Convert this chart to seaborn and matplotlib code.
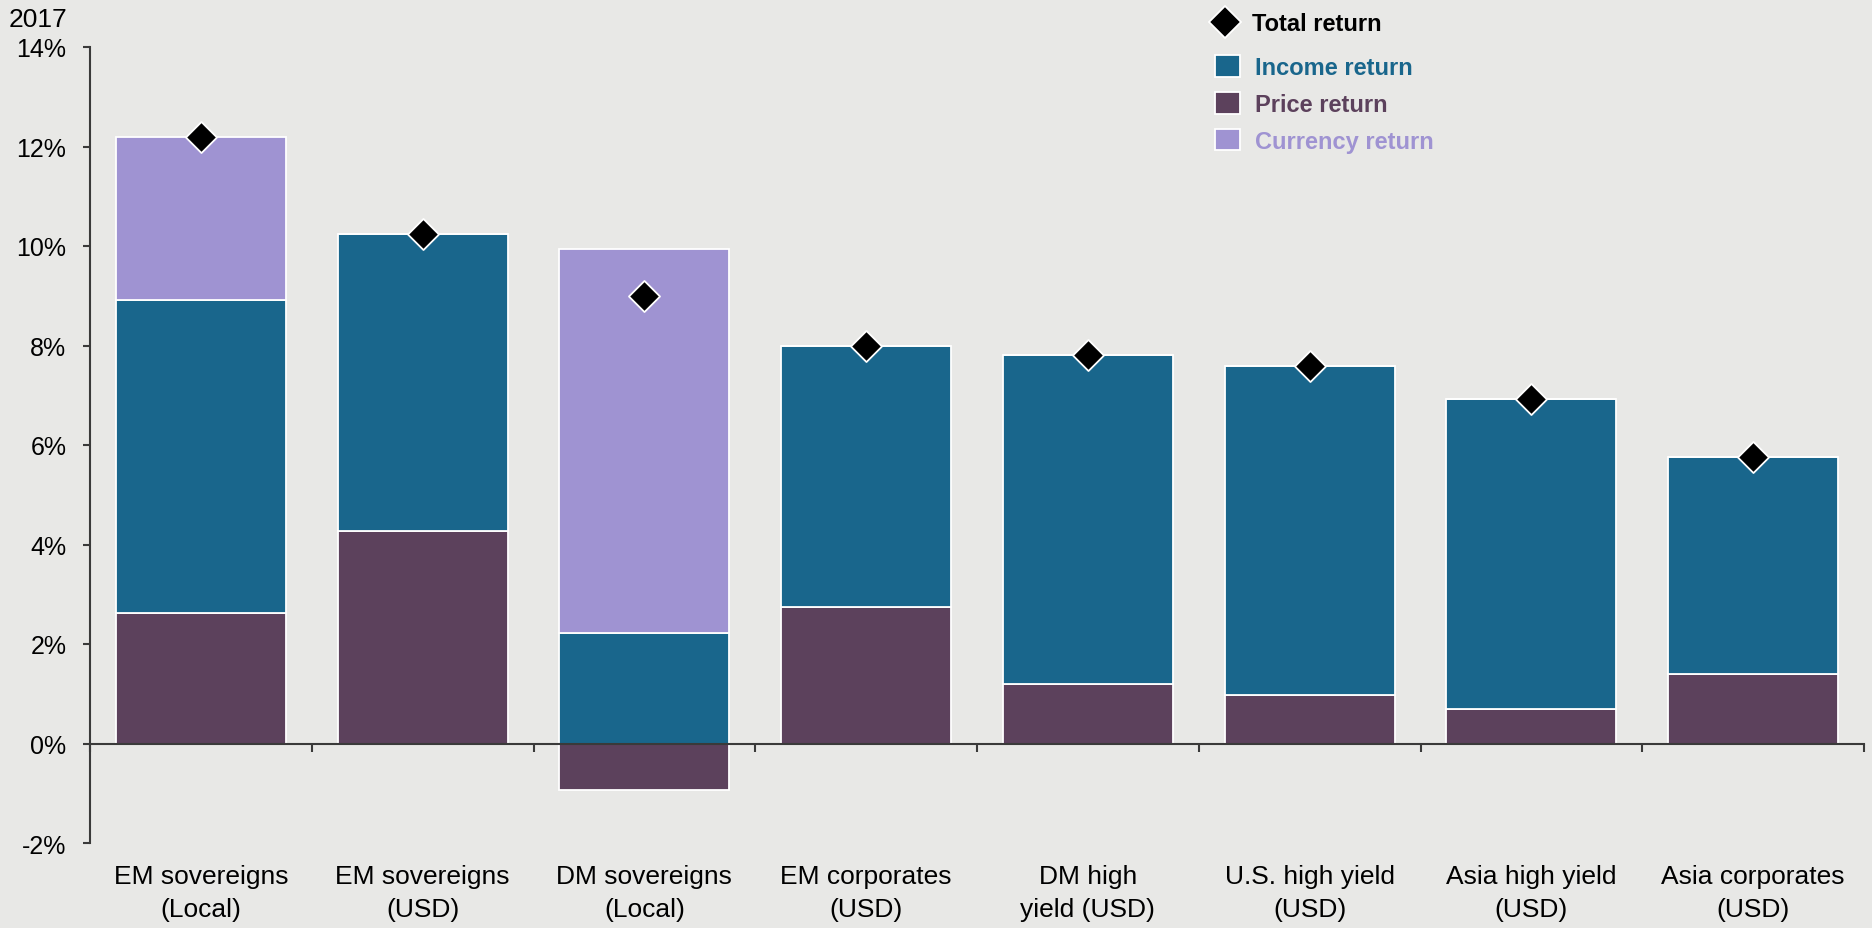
import numpy as np
import pandas as pd
import matplotlib
matplotlib.use("Agg")
import matplotlib.pyplot as plt
from matplotlib.lines import Line2D
from matplotlib.patches import Patch
import seaborn as sns

# Fixed income returns in 2017, split into components (%)
categories = ["EM sovereigns\n(Local)", "EM sovereigns\n(USD)", "DM sovereigns\n(Local)",
              "EM corporates\n(USD)", "DM high\nyield (USD)", "U.S. high yield\n(USD)",
              "Asia high yield\n(USD)", "Asia corporates\n(USD)"]
price_return = [2.62, 4.27, -0.94, 2.74, 1.20, 0.98, 0.70, 1.39]
income_return = [6.29, 5.98, 2.23, 5.26, 6.60, 6.61, 6.22, 4.37]
currency_return = [3.29, 0.00, 7.71, 0.00, 0.00, 0.00, 0.00, 0.00]
total_return = [12.20, 10.25, 9.00, 8.00, 7.80, 7.59, 6.92, 5.76]
y_ticks = [-2, 0, 2, 4, 6, 8, 10, 12, 14]
y_tick_labels = ["-2%", "0%", "2%", "4%", "6%", "8%", "10%", "12%", "14%"]

c_income = "#19668c"
c_price = "#5c415c"
c_currency = "#9f93d2"
bg = "#e8e8e6"
axis_col = "#3a3a3a"

sns.set_theme(style="white")
plt.rcParams["font.family"] = ["Liberation Sans", "DejaVu Sans"]

df = pd.DataFrame({
    "category": categories,
    "price": price_return,
    "income": income_return,
    "currency": currency_return,
    "total": total_return,
})
df["income_base"] = df["price"].clip(lower=0)
df["currency_base"] = df["income_base"] + df["income"]

fig = plt.figure(figsize=(18.72, 9.29), dpi=100, facecolor=bg)
ax = fig.add_axes([90 / 1872, 1 - 844 / 929, 1774 / 1872, 796 / 929])
ax.set_facecolor(bg)

bar_kw = dict(width=0.766, edgecolor="white", linewidth=1.3, saturation=1, ax=ax, zorder=2)
sns.barplot(data=df, x="category", y="price", color=c_price, **bar_kw)
sns.barplot(data=df, x="category", y="income", bottom=df["income_base"], color=c_income, **bar_kw)
sns.barplot(data=df, x="category", y="currency", bottom=df["currency_base"], color=c_currency, **bar_kw)
sns.scatterplot(data=df, x="category", y="total", marker="D", s=250, color="black",
                edgecolor="white", linewidth=1.3, ax=ax, zorder=5, legend=False)

ax.set_xlim(-0.5, 7.5)
ax.set_ylim(-2, 14)
ax.set_xlabel("")
ax.set_ylabel("")

# Axes styling: zero line with category separators, plain left axis
for s in ["top", "right"]:
    ax.spines[s].set_visible(False)
ax.spines["bottom"].set_position(("data", 0))
for s in ["bottom", "left"]:
    ax.spines[s].set_color(axis_col)
    ax.spines[s].set_linewidth(1.5)
    ax.spines[s].set_zorder(3)

ax.set_yticks(y_ticks)
ax.set_yticklabels(y_tick_labels)
ax.tick_params(axis="y", direction="out", length=5, width=1.5, color=axis_col,
               pad=12, labelsize=18, labelcolor="black", left=True)

ax.set_xticks(range(len(categories)))
ax.set_xticklabels(categories, fontsize=19, linespacing=1.45)
ax.set_xticks(np.arange(-0.5, 8.0, 1.0), minor=True)
ax.tick_params(axis="x", which="major", length=0, pad=87, labelcolor="black", bottom=True)
ax.tick_params(axis="x", which="minor", direction="out", length=6, width=1.5,
               color=axis_col, bottom=True)

fig.text(9 / 1872, 1 - 8 / 929, "2017", fontsize=19, ha="left", va="top", color="black")

# Legend: total-return marker on its own row, components below
leg1 = ax.legend(handles=[Line2D([], [], marker="D", linestyle="none", markersize=16,
                                 markerfacecolor="black", markeredgecolor="white",
                                 markeredgewidth=1.3)],
                 labels=["Total return"], loc="upper left", frameon=False,
                 bbox_to_anchor=(1211 / 1872, 1 - 13 / 929), bbox_transform=fig.transFigure,
                 handlelength=1.2, handletextpad=0.55, borderaxespad=0, borderpad=0,
                 prop={"weight": "bold", "size": 17})
leg1.get_texts()[0].set_color("black")
ax.add_artist(leg1)

comp_handles = [Patch(facecolor=c, edgecolor="white", linewidth=1.3)
                for c in (c_income, c_price, c_currency)]
leg2 = ax.legend(handles=comp_handles, labels=["Income return", "Price return", "Currency return"],
                 loc="upper left", frameon=False,
                 bbox_to_anchor=(1215 / 1872, 1 - 56 / 929), bbox_transform=fig.transFigure,
                 handlelength=1.05, handleheight=1.05, handletextpad=0.65, labelspacing=0.54,
                 borderaxespad=0, borderpad=0, prop={"weight": "bold", "size": 17})
for t, c in zip(leg2.get_texts(), (c_income, c_price, c_currency)):
    t.set_color(c)

fig.savefig("out.png", dpi=100, facecolor=bg)
